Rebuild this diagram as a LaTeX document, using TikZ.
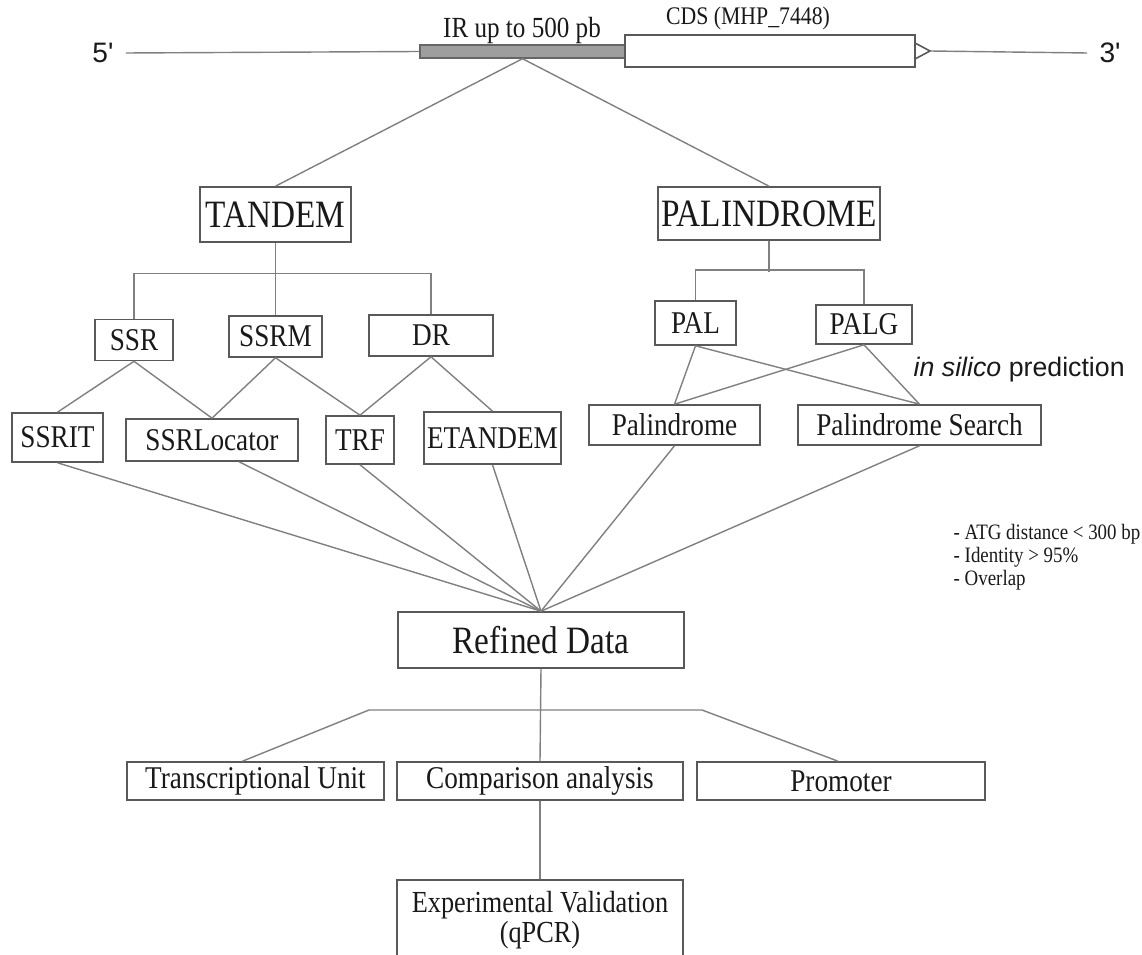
\documentclass[tikz,border=0pt]{standalone}
\usepackage{fontspec}
\setmainfont{Liberation Serif}[FakeStretch=0.86]
\newfontfamily\arialfont{Liberation Sans}
\begin{document}
\begin{tikzpicture}[x=0.01cm,y=-0.01cm,
    caja/.style={draw=black!65, line width=0.45pt, inner sep=0pt, text=black!90},
    linea/.style={draw=black!50, line width=0.4pt},
    fs/.style={font=\fontsize{#1}{#1}\selectfont}]
    \path[use as bounding box, clip] (0,0) rectangle (1142,955);
    % Gen: region intergenica y CDS
    \node[fs=8pt, text=black!90] (cinco) at (103,53) {\arialfont 5'};
    \node[fs=8pt, text=black!90] (tres) at (1110,53) {\arialfont 3'};
    \node[draw=black!60, fill=black!38, minimum width=2.05cm, minimum height=0.13cm, inner sep=0pt] (ir) at (522.5,51.5) {};
    \node[fs=8.3pt, text=black!90, anchor=base, inner sep=0pt] (irtexto) at (522,38) {IR up to 500 pb};
    \node[caja, minimum width=2.9cm, minimum height=0.32cm] (cds) at (770,51) {};
    \node[fs=7.2pt, text=black!90, anchor=base, inner sep=0pt] (cdstexto) at (748,25) {CDS (MHP\_7448)};
    \coordinate (punta) at (930,51);
    \draw[draw=black!65, line width=0.45pt] (915,43) -- (punta) -- (915,59);
    \draw[linea] (cinco.east) -- (ir.west);
    \draw[linea] (punta) -- (tres.west);
    % Busqueda de repeticiones
    \node[caja, minimum width=1.51cm, minimum height=0.55cm, fs=11pt] (tandem) at (275.5,214.5) {TANDEM};
    \node[caja, minimum width=2.22cm, minimum height=0.53cm, fs=11pt] (palin) at (769,213.5) {PALINDROME};
    \draw[linea] (tandem.north) -- (ir.south) -- (palin.north);
    % Tandem
    \node[caja, minimum width=0.78cm, minimum height=0.41cm, fs=9pt] (ssr) at (134,340) {SSR};
    \node[caja, minimum width=0.93cm, minimum height=0.41cm, fs=9pt] (ssrm) at (275.5,336.5) {SSRM};
    \node[caja, minimum width=1.24cm, minimum height=0.41cm, fs=9pt] (dr) at (431,335.5) {DR};
    \draw[linea] (ssr.north) -- ++(0,-45) -| (dr.north);
    \draw[linea] (tandem.south) -- (ssrm.north);
    \node[caja, minimum width=0.91cm, minimum height=0.49cm, fs=9pt] (ssrit) at (57.5,437.5) {SSRIT};
    \node[caja, minimum width=1.72cm, minimum height=0.42cm, fs=9pt] (ssrloc) at (212,440) {SSRLocator};
    \node[caja, minimum width=0.68cm, minimum height=0.48cm, fs=9pt] (trf) at (360,440) {TRF};
    \node[caja, minimum width=1.37cm, minimum height=0.52cm, fs=9pt] (etandem) at (492.5,438) {ETANDEM};
    \draw[linea] (ssrit.north) -- (ssr.south) -- (ssrloc.north);
    \draw[linea] (ssrloc.north) -- (ssrm.south) -- (trf.north);
    \draw[linea] (trf.north) -- (dr.south) -- (etandem.north);
    % Palindromos
    \node[caja, minimum width=0.81cm, minimum height=0.44cm, fs=9pt] (pal) at (695.5,323) {PAL};
    \node[caja, minimum width=0.96cm, minimum height=0.39cm, fs=9pt] (palg) at (864,324.5) {PALG};
    \draw[linea] (pal.north) -- ++(0,-30) -| (palg.north);
    \draw[linea] (palin.south) -- ++(0,31);
    \node[caja, minimum width=1.71cm, minimum height=0.40cm, fs=9pt] (palind) at (674.5,425) {Palindrome};
    \node[caja, minimum width=2.43cm, minimum height=0.40cm, fs=9pt] (palsearch) at (919.5,425) {Palindrome Search};
    \draw[linea] (palind.north) -- (pal.south) -- (palsearch.north);
    \draw[linea] (palind.north) -- (palg.south) -- (palsearch.north);
    \node[fs=7.6pt, text=black!90, anchor=west, inner sep=0pt] (silico) at (913,370) {\arialfont\textit{in silico} prediction};
    % Filtrado
    \node[caja, minimum width=2.86cm, minimum height=0.56cm, fs=11pt] (refined) at (541,640) {Refined Data};
    \foreach \src in {ssrit, trf, etandem, palind, palsearch}
        \draw[linea] (\src.south) -- (refined.north);
    \draw[linea] ([xshift=0.27cm]ssrloc.south) -- (refined.north);
    \node[font=\fontsize{6.25pt}{6.6pt}\selectfont, text=black!90, anchor=west, align=left, inner sep=0pt]
        (criterios) at (953,557) {- ATG distance < 300 bp\\- Identity > 95\%\\- Overlap};
    % Analisis
    \node[caja, minimum width=2.57cm, minimum height=0.38cm, fs=9pt] (tu) at (255.5,781) {Transcriptional Unit};
    \node[caja, minimum width=2.86cm, minimum height=0.38cm, fs=9pt] (comp) at (540,781) {Comparison analysis};
    \node[caja, minimum width=2.88cm, minimum height=0.38cm, fs=9pt] (promoter) at (841,781) {Promoter};
    \coordinate (barizq) at (369,710);
    \coordinate (barder) at (702,710);
    \draw[linea] (refined.south) -- (comp.north);
    \draw[linea] ([xshift=-0.13cm]tu.north) -- (barizq) -- (barder) -- ([xshift=-0.03cm]promoter.north);
    \node[caja, minimum width=2.86cm, minimum height=0.80cm, align=center,
          font=\fontsize{8.7pt}{8.6pt}\selectfont] (expval) at (540,920) {Experimental Validation\\(qPCR)};
    \draw[linea] (comp.south) -- (expval.north);
\end{tikzpicture}
\end{document}
